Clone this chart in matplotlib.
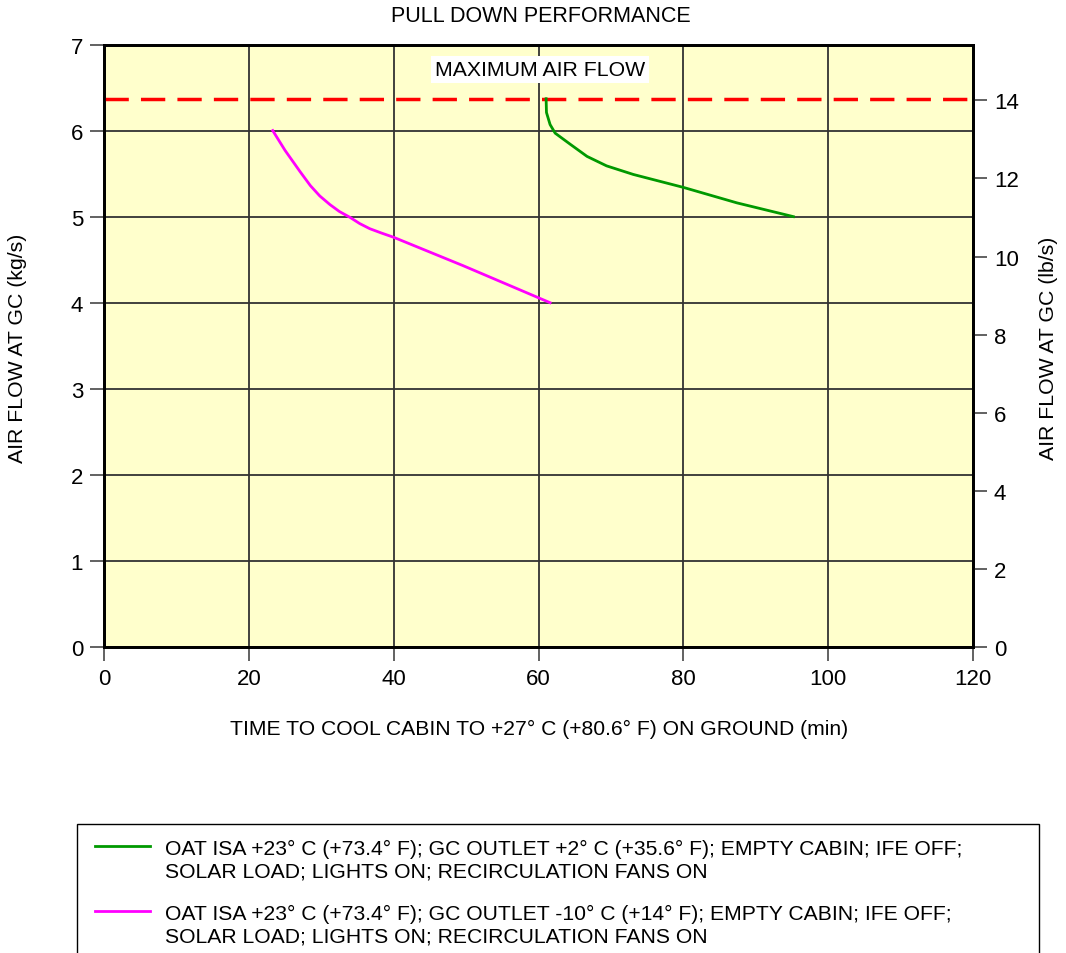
import matplotlib
matplotlib.use('Agg')
import matplotlib.pyplot as plt
from matplotlib.lines import Line2D
from matplotlib.patches import Rectangle

plt.rcParams['font.family'] = ['Liberation Sans', 'DejaVu Sans']

# data (min, kg/s)
green_x = [61.05, 61.1, 61.6, 62.3, 64.4, 66.7, 69.4, 73.1, 80.0, 87.4, 95.2]
green_y = [6.37, 6.21, 6.07, 5.97, 5.84, 5.70, 5.59, 5.49, 5.34, 5.16, 5.0]
magenta_x = [23.3, 25.0, 27.1, 28.5, 29.8, 31.2, 32.5, 34.0, 35.3, 36.7, 38.3, 40.0, 49.6, 61.6]
magenta_y = [6.0, 5.77, 5.52, 5.36, 5.24, 5.14, 5.06, 4.99, 4.92, 4.86, 4.81, 4.76, 4.43, 4.0]
max_flow = 6.37
kg_to_lb = 2.2046

x_ticks = [0, 20, 40, 60, 80, 100, 120]
y_ticks = [0, 1, 2, 3, 4, 5, 6, 7]
y2_ticks = [0, 2, 4, 6, 8, 10, 12, 14]

legend_labels = [
    "OAT ISA +23\u00b0 C (+73.4\u00b0 F); GC OUTLET +2\u00b0 C (+35.6\u00b0 F); EMPTY CABIN; IFE OFF;\nSOLAR LOAD; LIGHTS ON; RECIRCULATION FANS ON",
    "OAT ISA +23\u00b0 C (+73.4\u00b0 F); GC OUTLET -10\u00b0 C (+14\u00b0 F); EMPTY CABIN; IFE OFF;\nSOLAR LOAD; LIGHTS ON; RECIRCULATION FANS ON",
]
colors = ['#009900', '#ff00ff']

W, H = 1066, 954
fig = plt.figure(figsize=(W / 100, H / 100), dpi=100)
ax = fig.add_axes([104 / W, 1 - 648 / H, (973 - 104) / W, (648 - 45.5) / H])
ax.set_facecolor('#ffffcc')

ax.set_xlim(0, 120)
ax.set_ylim(0, 7)
ax.set_xticks(x_ticks)
ax.set_yticks(y_ticks)
ax.grid(True, color='#333333', linewidth=1.3)
ax.set_axisbelow(True)
for s in ax.spines.values():
    s.set_linewidth(2)
    s.set_color('black')
ax.tick_params(direction='out', length=10, width=1.3, color='#555555', labelsize=16, pad=5)

ax.axhline(max_flow, color='#ff0000', linewidth=2.5, dashes=(7, 3.5), zorder=3)
ax.text(60.2, 6.71, "MAXIMUM AIR FLOW", ha='center', va='center', fontsize=15.3,
        bbox=dict(facecolor='white', edgecolor='none', pad=3), zorder=4)

ax.plot(green_x, green_y, color=colors[0], linewidth=2, zorder=5)
ax.plot(magenta_x, magenta_y, color=colors[1], linewidth=2, zorder=5)

ax2 = ax.twinx()
ax2.set_ylim(0, 7 * kg_to_lb)
ax2.set_yticks(y2_ticks)
ax2.tick_params(direction='out', length=10, width=1.3, color='#555555', labelsize=16, pad=5)
for s in ax2.spines.values():
    s.set_linewidth(2)

fig.text(541 / W, 1 - 16 / H, "PULL DOWN PERFORMANCE", ha='center', va='center', fontsize=15.5)
fig.text(18 / W, 1 - 348 / H, "AIR FLOW AT GC (kg/s)", ha='center', va='center', rotation=90, fontsize=15.3)
fig.text(1049 / W, 1 - 348 / H, "AIR FLOW AT GC (lb/s)", ha='center', va='center', rotation=90, fontsize=15.3)
fig.text(539 / W, 1 - 729 / H, "TIME TO COOL CABIN TO +27\u00b0 C (+80.6\u00b0 F) ON GROUND (min)",
         ha='center', va='center', fontsize=15.2)

# legend box, cut off at the bottom edge like the original
fig.add_artist(Rectangle((77 / W, -0.05), (1039 - 77) / W, 0.05 + 1 - 825 / H,
                         transform=fig.transFigure, facecolor='white', edgecolor='black',
                         linewidth=1))
for i, (lab, c) in enumerate(zip(legend_labels, colors)):
    y0 = 847 + i * 65
    fig.add_artist(Line2D([95 / W, 150 / W], [1 - y0 / H, 1 - y0 / H],
                          transform=fig.transFigure, color=c, linewidth=2))
    fig.text(165 / W, 1 - (y0 - 7) / H, lab, ha='left', va='top', fontsize=15.2, linespacing=1.2)

fig.savefig('out.png', dpi=100)
